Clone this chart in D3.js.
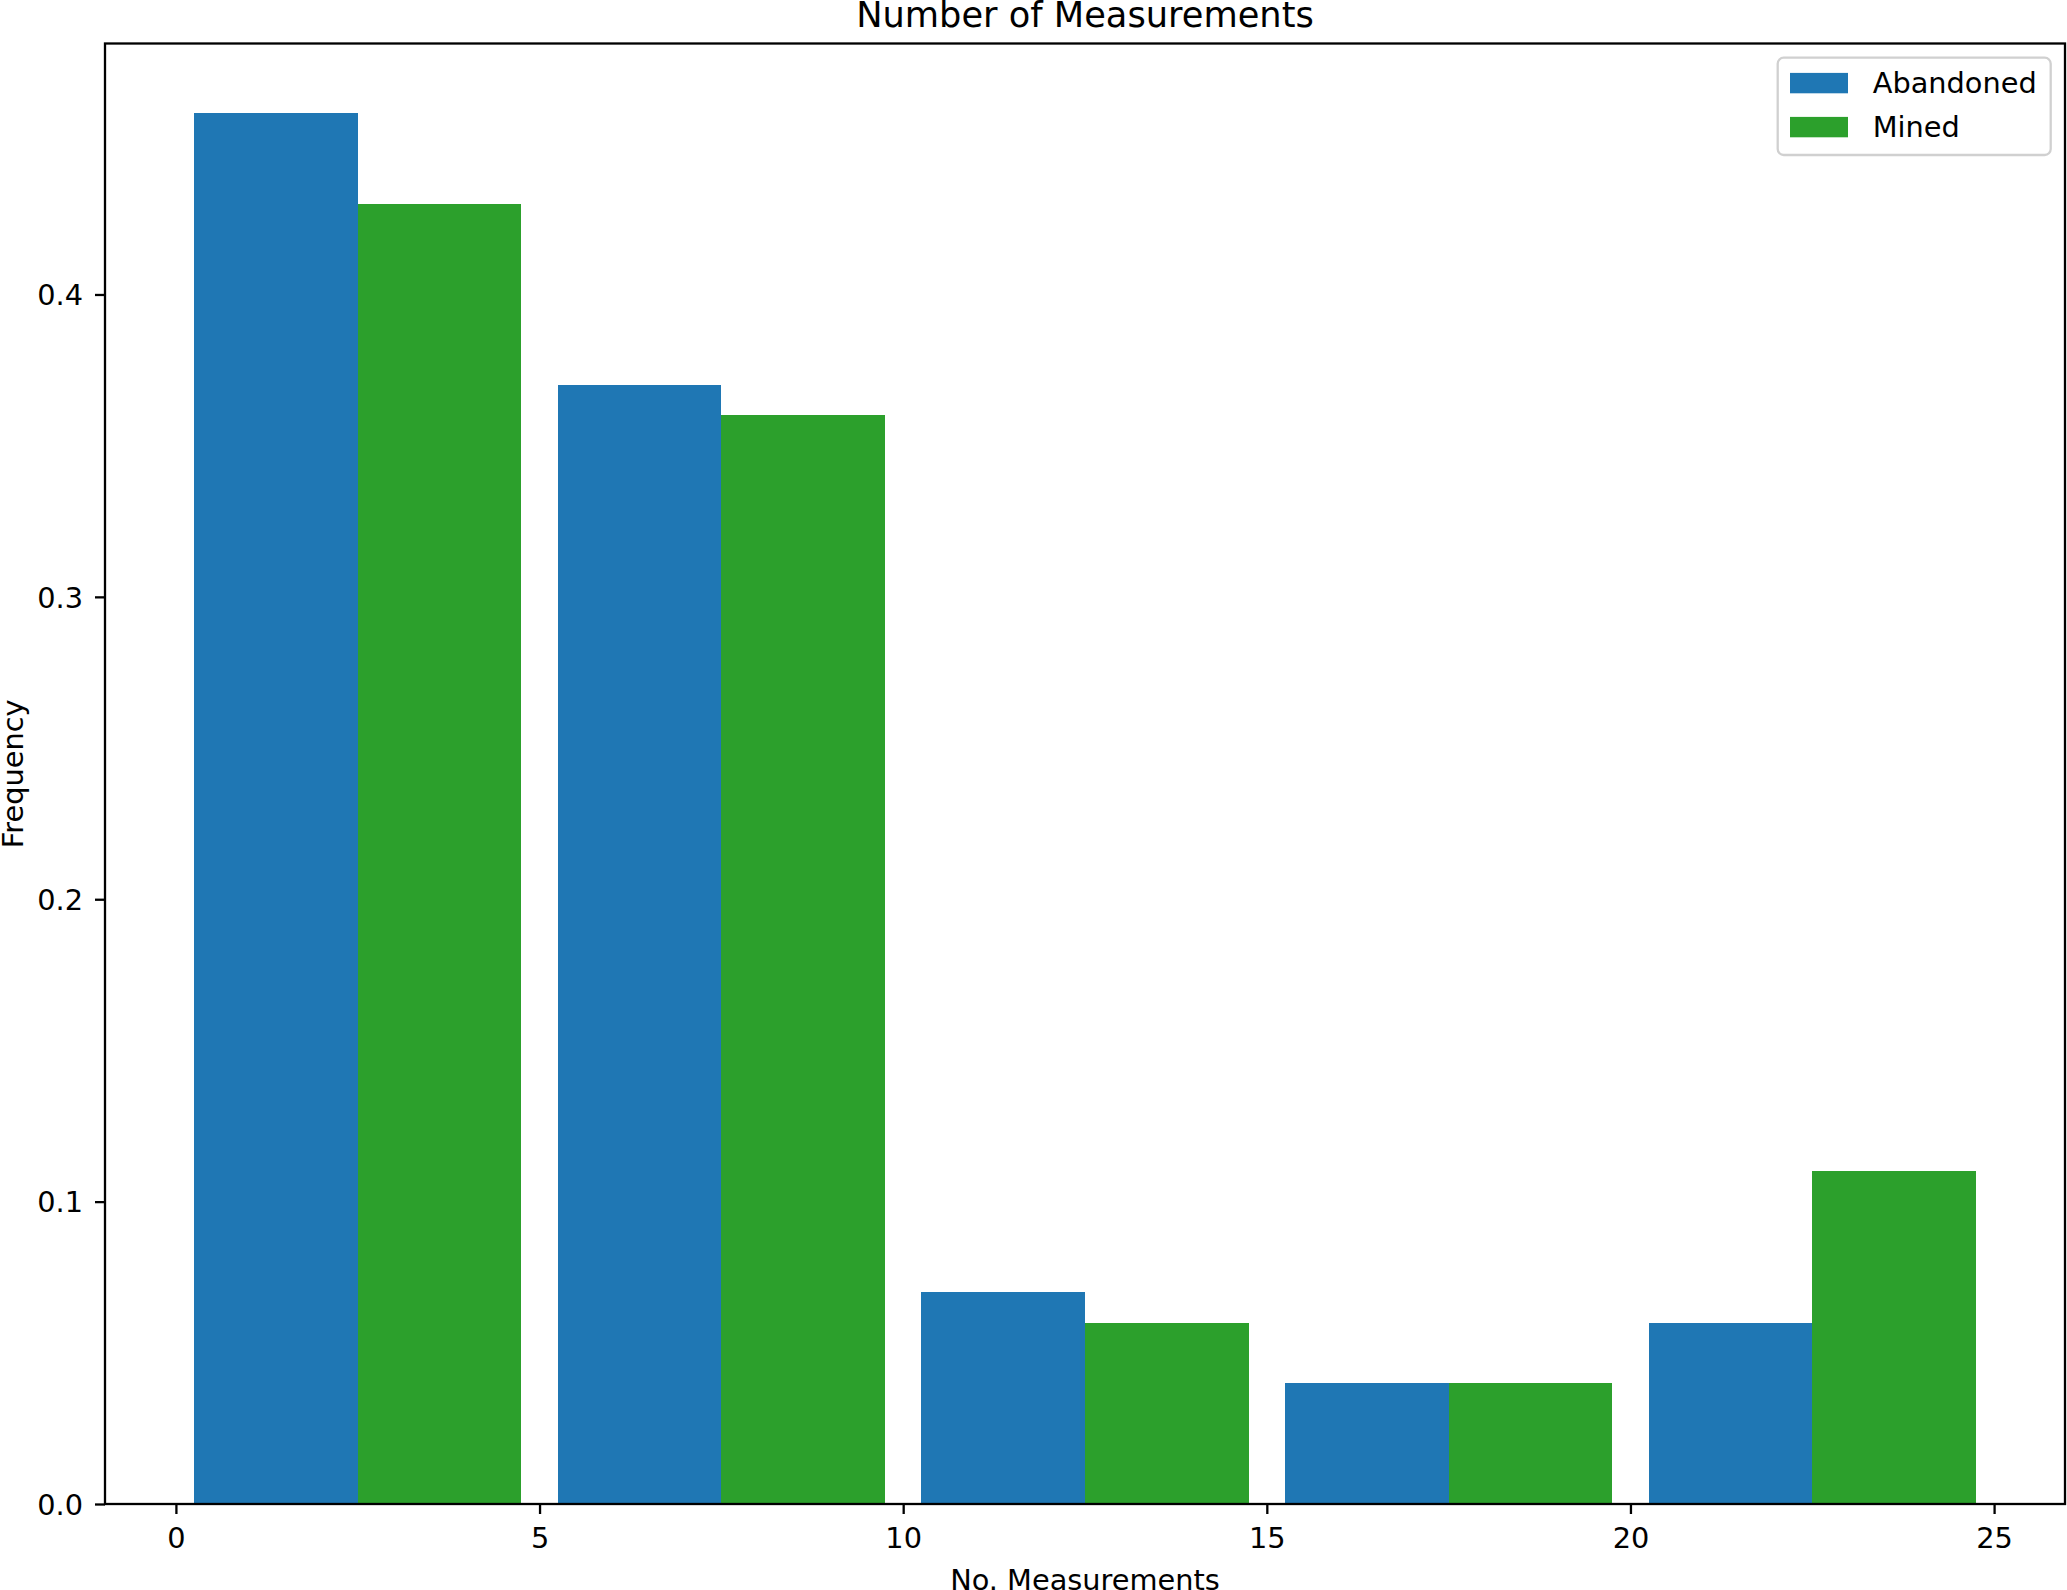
<!DOCTYPE html>
<html>
<head>
<meta charset="utf-8">
<script src="https://cdn.jsdelivr.net/npm/d3@7"></script>
<style>
  html, body { margin: 0; padding: 0; background: #fff; }
  svg { display: block; }
  text { font-family: "DejaVu Sans", sans-serif; fill: #000; }
</style>
</head>
<body>
<script>
// ---- data ----
const binEdges = [0, 5, 10, 15, 20, 25];
const seriesNames = ["Abandoned", "Mined"];
const abandoned = [0.46, 0.37, 0.07, 0.04, 0.06];
const mined = [0.43, 0.36, 0.06, 0.04, 0.11];
const xTicks = [0, 5, 10, 15, 20, 25];
const yTicks = [0.0, 0.1, 0.2, 0.3, 0.4];
const colors = ["#1f77b4", "#2ca02c"];
const titleText = "Number of Measurements";
const xLabelText = "No. Measurements";
const yLabelText = "Frequency";

// ---- layout ----
const W = 2067, H = 1590;
const plotL = 105, plotR = 2065, plotT = 43.5, plotB = 1504;
const fs = 28.8, titleFs = 35.2;
const rwidth = 0.9;

const svg = d3.select("body").append("svg").attr("width", W).attr("height", H);

const series = [abandoned, mined];
const nx = series.length;

// bars positions in data units
const bars = [];
series.forEach((vals, si) => {
  vals.forEach((v, i) => {
    const w0 = binEdges[i], w1 = binEdges[i + 1];
    const tot = w1 - w0;
    const bw = rwidth * tot / nx;
    const start = w0 + tot * (1 - rwidth) / 2 + si * bw;
    bars.push({ x0: start, x1: start + bw, v, si });
  });
});

const xmin = d3.min(bars, d => d.x0), xmax = d3.max(bars, d => d.x1);
const xm = (xmax - xmin) * 0.05;
const x = d3.scaleLinear().domain([xmin - xm, xmax + xm]).range([plotL, plotR]);
const ymax = d3.max(bars, d => d.v);
const y = d3.scaleLinear().domain([0, ymax * 1.05]).range([plotB, plotT]);

// bars
svg.append("g").attr("shape-rendering", "crispEdges")
  .selectAll("rect").data(bars).join("rect")
  .attr("x", d => x(d.x0))
  .attr("width", d => x(d.x1) - x(d.x0))
  .attr("y", d => y(d.v))
  .attr("height", d => y(0) - y(d.v))
  .attr("fill", d => colors[d.si]);

// axes
const lw = 2.3, tickLen = 10;
const xAxis = d3.axisBottom(x).tickValues(xTicks).tickFormat(d3.format("d"))
  .tickSize(tickLen).tickPadding(10);
const yAxis = d3.axisLeft(y).tickValues(yTicks).tickFormat(d3.format(".1f"))
  .tickSize(tickLen).tickPadding(12);

const gx = svg.append("g").attr("transform", `translate(0,${plotB})`).call(xAxis);
const gy = svg.append("g").attr("transform", `translate(${plotL},0)`).call(yAxis);
[gx, gy].forEach(g => {
  g.select(".domain").remove();
  g.selectAll(".tick line").attr("stroke", "#000").attr("stroke-width", lw);
  g.selectAll(".tick text").attr("font-size", fs).attr("font-family", "DejaVu Sans").attr("fill", "#000");
});
gx.selectAll(".tick text").attr("dy", null).attr("y", 44);
gy.selectAll(".tick text").attr("dy", "0.36em");

// frame
svg.append("rect")
  .attr("x", plotL).attr("y", plotT)
  .attr("width", plotR - plotL).attr("height", plotB - plotT)
  .attr("fill", "none").attr("stroke", "#000").attr("stroke-width", lw);

// title
svg.append("text").attr("x", (plotL + plotR) / 2).attr("y", 26.7)
  .attr("text-anchor", "middle").attr("font-size", titleFs).text(titleText);

// x label
svg.append("text").attr("x", (plotL + plotR) / 2).attr("y", 1589.5)
  .attr("text-anchor", "middle").attr("font-size", fs).text(xLabelText);

// y label
svg.append("text")
  .attr("transform", `translate(23,${(plotT + plotB) / 2}) rotate(-90)`)
  .attr("text-anchor", "middle").attr("font-size", fs).text(yLabelText);

// legend
const lg = svg.append("g");
lg.append("rect").attr("x", 1777.7).attr("y", 57.7).attr("width", 273).attr("height", 97.3)
  .attr("rx", 6).attr("ry", 6)
  .attr("fill", "rgba(255,255,255,0.8)").attr("stroke", "#d0d0d0").attr("stroke-width", 2.3);
const legRows = [93.3, 137.3];
seriesNames.forEach((name, i) => {
  lg.append("rect").attr("x", 1790).attr("y", legRows[i] - 20.4)
    .attr("width", 58).attr("height", 20.4).attr("fill", colors[i]);
  lg.append("text").attr("x", 1872.7).attr("y", legRows[i])
    .attr("font-size", fs).text(name);
});
</script>
</body>
</html>
